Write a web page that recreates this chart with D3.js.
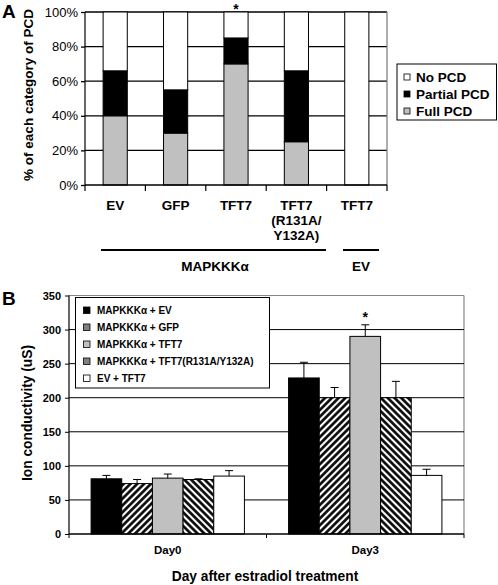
<!DOCTYPE html>
<html><head><meta charset="utf-8">
<script src="https://cdn.jsdelivr.net/npm/d3@7"></script>
<style>
html,body{margin:0;padding:0;background:#fff;}
svg{display:block;font-family:Arial,"Liberation Sans",sans-serif;}
</style></head>
<body>
<svg id="chart" width="498" height="585"></svg>
<script>
// ---------- Panel A data ----------
const catLabelsA = [["EV"],["GFP"],["TFT7"],["TFT7","(R131A/","Y132A)"],["TFT7"]];
const fullPCD    = [40, 30, 70, 25, 0];
const partialPCD = [26, 25, 15, 41, 0];
const noPCD      = [34, 45, 15, 34, 100];
const yTicksA    = [0, 20, 40, 60, 80, 100];
const legendA    = ["No PCD", "Partial PCD", "Full PCD"];
const starA      = [2];

// ---------- Panel B data ----------
const days    = ["Day0", "Day3"];
const seriesB = ["MAPKKKα + EV", "MAPKKKα + GFP", "MAPKKKα + TFT7", "MAPKKKα + TFT7(R131A/Y132A)", "EV + TFT7"];
const valEV      = [81, 229];
const valGFP     = [74, 200];
const valTFT7    = [82, 290];
const valMut     = [80, 200];
const valEVTFT7  = [85, 86];
const errEV      = [5, 23];
const errGFP     = [6, 15];
const errTFT7    = [6, 17];
const errMut     = [1, 24];
const errEVTFT7  = [8, 9];
const yTicksB    = [0, 50, 100, 150, 200, 250, 300, 350];

const svg = d3.select("#chart");
const defs = svg.append("defs");
function hatch(id, angle, size, sw) {
  const p = defs.append("pattern").attr("id", id).attr("patternUnits", "userSpaceOnUse")
    .attr("width", size).attr("height", size).attr("patternTransform", `rotate(${angle})`);
  p.append("rect").attr("width", size).attr("height", size).attr("fill", "#fff");
  p.append("line").attr("x1", size/2).attr("x2", size/2).attr("y1", 0).attr("y2", size)
    .attr("stroke", "#000").attr("stroke-width", sw);
}
hatch("hatchF", 45, 4.8, 2.6);
hatch("hatchB", -45, 4.8, 2.6);
hatch("hatchFs", 45, 2, 1);
hatch("hatchBs", -45, 2, 1);

const FS_A = 13.5;

// ================= PANEL A =================
const xA = d3.scaleBand().domain(d3.range(catLabelsA.length)).range([85, 387]).padding(0);
const yA = d3.scaleLinear().domain([0, 100]).range([185, 12]);
const gA = svg.append("g");

// gridlines
gA.selectAll(".gridA").data(yTicksA.filter(d => d > 0)).join("line")
  .attr("x1", 85).attr("x2", 387).attr("y1", d => yA(d)).attr("y2", d => yA(d))
  .attr("stroke", "#000").attr("stroke-width", 1.3);
// right border
gA.append("line").attr("x1", 387).attr("x2", 387).attr("y1", yA(100)).attr("y2", yA(0))
  .attr("stroke", "#777").attr("stroke-width", 1.2);

// stacked bars
const bwA = xA.bandwidth() * 0.4;
const stackA = catLabelsA.map((c, i) => [
  {y0: 0, y1: fullPCD[i], fill: "#c0c0c0"},
  {y0: fullPCD[i], y1: fullPCD[i] + partialPCD[i], fill: "#000"},
  {y0: fullPCD[i] + partialPCD[i], y1: fullPCD[i] + partialPCD[i] + noPCD[i], fill: "#fff"}
].map(s => Object.assign(s, {i})));
gA.selectAll(".barA").data(stackA.flat().filter(s => s.y1 > s.y0)).join("rect")
  .attr("x", d => xA(d.i) + xA.bandwidth()/2 - bwA/2)
  .attr("width", bwA)
  .attr("y", d => yA(d.y1))
  .attr("height", d => yA(d.y0) - yA(d.y1))
  .attr("fill", d => d.fill).attr("stroke", "#000").attr("stroke-width", 1);

// y axis
const axA = gA.append("g").attr("transform", "translate(85,0)")
  .call(d3.axisLeft(yA).tickValues(yTicksA).tickFormat(d => d + "%").tickSize(4).tickPadding(3));
axA.select(".domain").attr("stroke", "#000").attr("stroke-width", 1.2).attr("d", `M0,${yA(100)}V${yA(0)}`);
axA.selectAll("line").attr("stroke", "#000").attr("stroke-width", 1.3);
axA.selectAll("text").attr("font-size", 13).attr("font-family", "Arial,'Liberation Sans'").attr("fill", "#000");

// x axis line + boundary ticks
gA.append("line").attr("x1", 85).attr("x2", 387).attr("y1", 185).attr("y2", 185).attr("stroke", "#000").attr("stroke-width", 1.3);
const bounds = d3.range(catLabelsA.length + 1).map(i => 85 + i * xA.step());
gA.selectAll(".tickA").data(bounds).join("line")
  .attr("x1", d => d).attr("x2", d => d).attr("y1", 185).attr("y2", 191)
  .attr("stroke", "#000").attr("stroke-width", 1.2);

// category labels
catLabelsA.forEach((lines, i) => {
  const t = gA.append("text").attr("text-anchor", "middle").attr("font-weight", "bold").attr("font-size", FS_A)
    .attr("x", xA(i) + xA.bandwidth()/2).attr("y", 209.5);
  lines.forEach((l, j) => t.append("tspan").attr("x", xA(i) + xA.bandwidth()/2).attr("dy", j === 0 ? 0 : 15).text(l));
});
// star
starA.forEach(i => gA.append("text").attr("x", xA(i) + xA.bandwidth()/2).attr("y", 14)
  .attr("text-anchor", "middle").attr("font-weight", "bold").attr("font-size", 14).text("*"));

// group lines
gA.append("line").attr("x1", 101).attr("x2", 326).attr("y1", 250).attr("y2", 250).attr("stroke", "#000").attr("stroke-width", 2);
gA.append("line").attr("x1", 343).attr("x2", 379).attr("y1", 250).attr("y2", 250).attr("stroke", "#000").attr("stroke-width", 2);
gA.append("text").attr("x", 215).attr("y", 270.5).attr("text-anchor", "middle").attr("font-weight", "bold").attr("font-size", FS_A).text("MAPKKKα");
gA.append("text").attr("x", 361).attr("y", 270.5).attr("text-anchor", "middle").attr("font-weight", "bold").attr("font-size", FS_A).text("EV");

// y title
gA.append("text").attr("transform", "translate(33,95) rotate(-90)").attr("text-anchor", "middle")
  .attr("font-weight", "bold").attr("font-size", 13.5).text("% of each category of PCD");
// panel letter
svg.append("text").attr("x", 2).attr("y", 17.5).attr("font-weight", "bold").attr("font-size", 19).text("A");

// legend A
const lgA = gA.append("g");
lgA.append("rect").attr("x", 397).attr("y", 64).attr("width", 99.5).attr("height", 56).attr("fill", "#fff").attr("stroke", "#000").attr("stroke-width", 1);
const lgAFill = ["#fff", "#000", "#c0c0c0"];
legendA.forEach((l, i) => {
  const cy = 77 + i * 17;
  lgA.append("rect").attr("x", 404).attr("y", cy - 3).attr("width", 6).attr("height", 6)
    .attr("fill", lgAFill[i]).attr("stroke", "#000").attr("stroke-width", 0.8);
  lgA.append("text").attr("x", 416).attr("y", cy + 5).attr("font-weight", "bold").attr("font-size", FS_A).text(l);
});

// ================= PANEL B =================
const valsB = [valEV, valGFP, valTFT7, valMut, valEVTFT7];
const errsB = [errEV, errGFP, errTFT7, errMut, errEVTFT7];
const fillsB = ["#000", "url(#hatchF)", "#c0c0c0", "url(#hatchB)", "#fff"];
const fillsBs = ["#000", "url(#hatchFs)", "#c0c0c0", "url(#hatchBs)", "#fff"];

const x0 = d3.scaleBand().domain(days).range([69, 464]).padding(0);
const x1 = d3.scaleBand().domain(d3.range(seriesB.length)).range([0, x0.bandwidth()]).paddingInner(0).paddingOuter(0.72);
const yB = d3.scaleLinear().domain([0, 350]).range([534, 295.5]);
const gB = svg.append("g");

// frame top/right gray
gB.append("line").attr("x1", 69).attr("x2", 464).attr("y1", yB(350)).attr("y2", yB(350)).attr("stroke", "#888").attr("stroke-width", 1);
gB.append("line").attr("x1", 464).attr("x2", 464).attr("y1", yB(350)).attr("y2", yB(0)).attr("stroke", "#888").attr("stroke-width", 1.2);
// gridlines
gB.selectAll(".gridB").data(yTicksB.filter(d => d > 0 && d < 350)).join("line")
  .attr("x1", 69).attr("x2", 464).attr("y1", d => yB(d)).attr("y2", d => yB(d))
  .attr("stroke", "#000").attr("stroke-width", 1);

// bars
const barData = [];
days.forEach((d, di) => valsB.forEach((v, si) => barData.push({d, di, si, v: v[di], e: errsB[si][di]})));
gB.selectAll(".barB").data(barData).join("rect")
  .attr("x", d => x0(d.d) + x1(d.si)).attr("width", x1.bandwidth())
  .attr("y", d => yB(d.v)).attr("height", d => yB(0) - yB(d.v))
  .attr("fill", d => fillsB[d.si]).attr("stroke", "#000").attr("stroke-width", 1);
// error bars
const eb = gB.selectAll(".err").data(barData).join("g");
eb.append("line").attr("x1", d => x0(d.d) + x1(d.si) + x1.bandwidth()/2).attr("x2", d => x0(d.d) + x1(d.si) + x1.bandwidth()/2)
  .attr("y1", d => yB(d.v)).attr("y2", d => yB(d.v + d.e)).attr("stroke", "#000").attr("stroke-width", 1);
eb.append("line").attr("x1", d => x0(d.d) + x1(d.si) + x1.bandwidth()/2 - 4).attr("x2", d => x0(d.d) + x1(d.si) + x1.bandwidth()/2 + 4)
  .attr("y1", d => yB(d.v + d.e)).attr("y2", d => yB(d.v + d.e)).attr("stroke", "#000").attr("stroke-width", 1);
// star
gB.append("text").attr("x", x0("Day3") + x1(2) + x1.bandwidth()/2).attr("y", yB(valTFT7[1] + errTFT7[1]) - 3)
  .attr("text-anchor", "middle").attr("font-weight", "bold").attr("font-size", 14).text("*");

// y axis
const axB = gB.append("g").attr("transform", "translate(69,0)")
  .call(d3.axisLeft(yB).tickValues(yTicksB).tickSize(4).tickPadding(4));
axB.select(".domain").attr("stroke", "#000").attr("stroke-width", 1.2).attr("d", `M0,${yB(350)}V${yB(0)}`);
axB.selectAll("line").attr("stroke", "#000");
axB.selectAll("text").attr("font-size", 11).attr("font-weight", "bold").attr("font-family", "Arial,'Liberation Sans'").attr("fill", "#000");

// x axis
gB.append("line").attr("x1", 69).attr("x2", 464).attr("y1", yB(0)).attr("y2", yB(0)).attr("stroke", "#000").attr("stroke-width", 1.5);
const bB = [69, 69 + x0.step(), 464];
gB.selectAll(".tickB").data(bB).join("line")
  .attr("x1", d => d).attr("x2", d => d).attr("y1", yB(0)).attr("y2", yB(0) + 4).attr("stroke", "#000").attr("stroke-width", 1);
gB.selectAll(".dayLbl").data(days).join("text")
  .attr("x", d => x0(d) + x0.bandwidth()/2).attr("y", 554).attr("text-anchor", "middle")
  .attr("font-weight", "bold").attr("font-size", 11.5).text(d => d);

gB.append("text").attr("x", 265).attr("y", 581).attr("text-anchor", "middle").attr("font-weight", "bold").attr("font-size", 13.75).text("Day after estradiol treatment");
gB.append("text").attr("transform", "translate(32,413) rotate(-90)").attr("text-anchor", "middle")
  .attr("font-weight", "bold").attr("font-size", 13.75).text("Ion conductivity (uS)");
svg.append("text").attr("x", 2).attr("y", 305).attr("font-weight", "bold").attr("font-size", 19).text("B");

// legend B
const lgB = gB.append("g");
lgB.append("rect").attr("x", 75.5).attr("y", 297.5).attr("width", 194).attr("height", 90.5).attr("fill", "#fff").attr("stroke", "#000").attr("stroke-width", 1);
seriesB.forEach((s, i) => {
  const cy = 310.5 + i * 17;
  lgB.append("rect").attr("x", 83.5).attr("y", cy - 3.5).attr("width", 6.5).attr("height", 6.5)
    .attr("fill", fillsBs[i]).attr("stroke", "#000").attr("stroke-width", 0.8);
  lgB.append("text").attr("x", 97).attr("y", cy + 3.7).attr("font-weight", "bold").attr("font-size", 10).text(s);
});
</script>
</body></html>
